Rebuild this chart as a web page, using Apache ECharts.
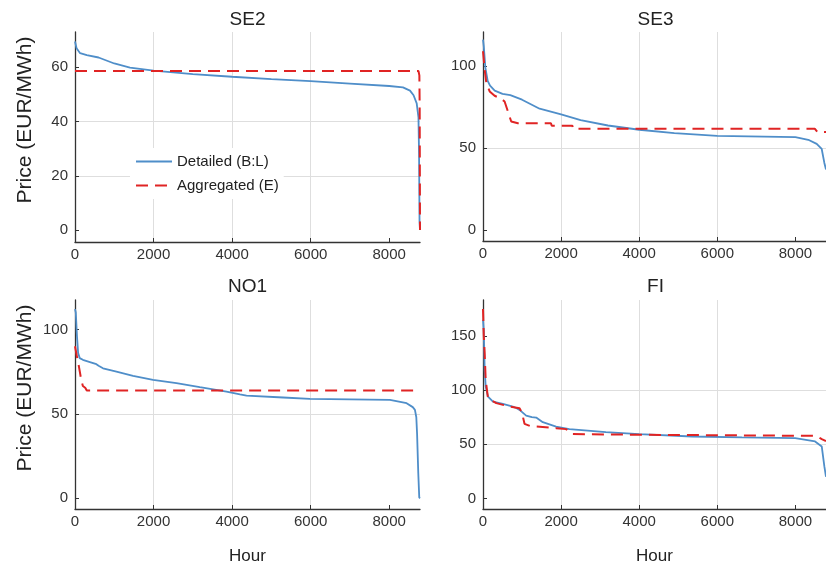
<!DOCTYPE html>
<html><head><meta charset="utf-8">
<script src="https://cdn.jsdelivr.net/npm/echarts@6/dist/echarts.min.js"></script>
<style>html,body{margin:0;padding:0;background:#fff}#c{width:826px;height:567px}</style>
</head><body><div id="c"></div><script>
// ---------- data ----------
const HOUR_MAX = 8784;
const xTicks = [0, 2000, 4000, 6000, 8000];
const seriesNames = ['Detailed (B:L)', 'Aggregated (E)'];
const panelTitles = ['SE2', 'SE3', 'NO1', 'FI'];
const yAxisTitle = 'Price (EUR/MWh)';
const xAxisTitle = 'Hour';

const se2DetHours  = [0, 40, 130, 300, 600, 1000, 1400, 2000, 3000, 4000, 5000, 6000, 7000, 8000, 8350, 8530, 8620, 8700, 8745, 8760, 8772, 8784];
const se2DetPrices = [69.5, 67, 65.2, 64.5, 63.6, 61.4, 59.9, 58.8, 57.5, 56.5, 55.6, 54.9, 54.0, 53.1, 52.6, 51.4, 49.7, 46.7, 41.5, 28, 3, 0];
const se2AggHours  = [0, 8745, 8768, 8776, 8784];
const se2AggPrices = [58.6, 58.6, 57, 45, 0];
const se2YTicks = [0, 20, 40, 60];

const se3DetHours  = [0, 20, 60, 120, 180, 300, 500, 700, 1000, 1450, 2000, 2500, 3200, 4000, 4900, 6000, 8000, 8330, 8546, 8674, 8742, 8784];
const se3DetPrices = [116, 112, 99, 91, 88, 85, 83, 82.3, 79.5, 74, 70.5, 67, 63.8, 61.2, 59.1, 57.5, 56.7, 55.1, 52.6, 49.5, 41, 37];
const se3AggHours  = [0, 43, 86, 171, 298, 470, 553, 638, 723, 893, 1740, 1760, 2290, 2310, 8500, 8560, 8784];
const se3AggPrices = [109, 97.7, 89.6, 84.5, 81.9, 80, 78.4, 72.3, 66.2, 65.2, 65.2, 63.6, 63.6, 61.8, 61.8, 60, 59.8];
const se3YTicks = [0, 50, 100];

const no1DetHours  = [0, 20, 50, 80, 120, 200, 400, 545, 600, 713, 1055, 1478, 1987, 2583, 3177, 3857, 4200, 4367, 5299, 5980, 8018, 8443, 8600, 8655, 8690, 8710, 8740, 8765, 8784];
const no1DetPrices = [112, 110, 96, 86, 83, 82, 80.5, 79.4, 78.5, 77, 75, 72.5, 70.1, 68.2, 65.8, 63.2, 61.5, 60.8, 59.7, 58.9, 58.3, 56.3, 54, 52.4, 48, 38, 15, 0.5, 0];
const no1AggHours  = [0, 40, 100, 160, 200, 260, 300, 8784];
const no1AggPrices = [90, 85, 78, 70, 66.5, 65.5, 63.8, 63.8];
const no1YTicks = [0, 50, 100];

const fiDetHours  = [0, 20, 43, 69, 128, 255, 510, 765, 850, 936, 1106, 1250, 1362, 1531, 1872, 2212, 3147, 3997, 5357, 6633, 7995, 8505, 8675, 8742, 8784];
const fiDetPrices = [165, 155, 118.6, 103.3, 94, 89.4, 87.3, 84.8, 83.5, 81.8, 76.5, 75, 74.7, 70.4, 66.4, 64, 61.2, 59.4, 57.2, 56.3, 55.7, 52.6, 48, 29.5, 20];
const fiAggHours  = [0, 20, 43, 69, 128, 340, 680, 936, 1000, 1021, 1063, 1200, 1362, 1872, 2127, 2200, 2296, 4000, 8505, 8600, 8675, 8784];
const fiAggPrices = [175, 150, 134, 109.5, 92.6, 88, 84.8, 83.3, 79, 75.6, 68.9, 67, 66.4, 64.9, 64, 62, 59.4, 58.8, 57.8, 56.5, 54.7, 53];
const fiYTicks = [0, 50, 100, 150];

// ---------- layout / style ----------
const FONT = 'Liberation Sans, Arial, Helvetica, sans-serif';
const BLUE = '#4f8ec9';
const RED = '#e02424';
const pairs = (h, p) => h.map((x, i) => [x, p[i]]);

const panels = [
  {det: pairs(se2DetHours, se2DetPrices), agg: pairs(se2AggHours, se2AggPrices), ticks: se2YTicks, ymin: -4.4, ymax: 73, step: 20,
   grid: {left: 75, top: 32, width: 345, height: 210}, showYName: true, showXName: false},
  {det: pairs(se3DetHours, se3DetPrices), agg: pairs(se3AggHours, se3AggPrices), ticks: se3YTicks, ymin: -6.5, ymax: 120.7, step: 50,
   grid: {left: 483, top: 32, width: 345, height: 209}, showYName: false, showXName: false},
  {det: pairs(no1DetHours, no1DetPrices), agg: pairs(no1AggHours, no1AggPrices), ticks: no1YTicks, ymin: -6.3, ymax: 117.4, step: 50,
   grid: {left: 75, top: 300, width: 345, height: 209}, showYName: true, showXName: true},
  {det: pairs(fiDetHours, fiDetPrices), agg: pairs(fiAggHours, fiAggPrices), ticks: fiYTicks, ymin: -9.8, ymax: 183.3, step: 50,
   grid: {left: 483, top: 300, width: 345, height: 209}, showYName: false, showXName: true}
];

const axisLineStyle = {color: '#333', width: 1.3};
const gridLineStyle = {color: '#dedede', width: 1};
const labelStyle = {color: '#333', fontSize: 15, fontFamily: FONT, formatter: v => String(v)};

const graphics = [];
panelTitles.forEach((t, i) => {
  graphics.push({
    type: 'text', x: panels[i].grid.left + 172.5, y: i < 2 ? 19.5 : 286.5,
    style: {text: t, fontSize: 19, fill: '#222', fontFamily: FONT, align: 'center', verticalAlign: 'middle'}
  });
  if (panels[i].showYName) {
    graphics.push({
      type: 'text', x: 25.5, y: i < 2 ? 120 : 388, rotation: Math.PI / 2,
      style: {text: yAxisTitle, fontSize: 21, fill: '#222', fontFamily: FONT, align: 'center', verticalAlign: 'middle'}
    });
  }
});

const option = {
  animation: false,
  backgroundColor: '#fff',
  textStyle: {fontFamily: FONT},
  grid: panels.map(p => Object.assign({containLabel: false}, p.grid)),
  xAxis: panels.map((p, i) => ({
    gridIndex: i, type: 'value', min: 0, max: HOUR_MAX,
    minInterval: 2000, maxInterval: 2000, splitNumber: 4,
    axisLine: {show: true, onZero: false, lineStyle: axisLineStyle},
    axisTick: {show: true, inside: true, length: 4, customValues: xTicks, lineStyle: {color: '#333'}},
    axisLabel: Object.assign({customValues: xTicks, margin: 5}, labelStyle),
    splitLine: {show: true, showMinLine: false, showMaxLine: false, lineStyle: gridLineStyle},
    name: p.showXName ? xAxisTitle : '', nameLocation: 'middle', nameGap: 39,
    nameTextStyle: {fontSize: 17, color: '#222', fontFamily: FONT}
  })),
  yAxis: panels.map((p, i) => ({
    gridIndex: i, type: 'value', min: p.ymin, max: p.ymax,
    minInterval: p.step, maxInterval: p.step, splitNumber: 4,
    axisLine: {show: true, onZero: false, lineStyle: axisLineStyle},
    axisTick: {show: true, inside: true, length: 4, customValues: p.ticks, lineStyle: {color: '#333'}},
    axisLabel: Object.assign({customValues: p.ticks, margin: 7}, labelStyle),
    splitLine: {show: true, showMinLine: false, showMaxLine: false, lineStyle: gridLineStyle}
  })),
  legend: {
    data: seriesNames, orient: 'vertical', left: 130, top: 148,
    backgroundColor: '#fff', padding: [6, 5], itemWidth: 36, itemHeight: 14, itemGap: 9,
    itemStyle: {opacity: 0},
    textStyle: {fontSize: 15, color: '#222', fontFamily: FONT}
  },
  graphic: graphics,
  series: []
};

panels.forEach((p, i) => {
  option.series.push({
    name: seriesNames[0], type: 'line', xAxisIndex: i, yAxisIndex: i, data: p.det,
    symbol: 'none', showSymbol: false, lineStyle: {color: BLUE, width: 1.8}, itemStyle: {color: BLUE}, z: 2
  });
  option.series.push({
    name: seriesNames[1], type: 'line', xAxisIndex: i, yAxisIndex: i, data: p.agg,
    symbol: 'none', showSymbol: false, lineStyle: {color: RED, width: 2, type: [12, 7]}, itemStyle: {color: RED}, z: 3
  });
});

const chart = echarts.init(document.getElementById('c'), null, {renderer: 'canvas'});
chart.setOption(option);
</script></body></html>
